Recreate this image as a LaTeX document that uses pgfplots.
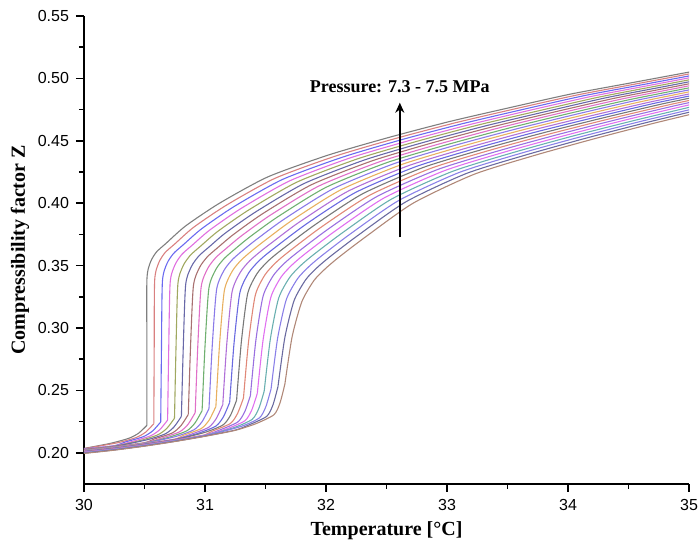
\documentclass[border=0pt]{standalone}
\usepackage{fontspec}
\setmainfont{Liberation Serif}
\newfontfamily\arialf{Liberation Sans}
\usepackage{pgfplots}
\pgfplotsset{compat=1.18}
\usetikzlibrary{arrows.meta}
\definecolor{c1}{HTML}{7F7F7F}
\definecolor{c2}{HTML}{D98080}
\definecolor{c3}{HTML}{6A6AF0}
\definecolor{c4}{HTML}{E070E0}
\definecolor{c5}{HTML}{A0A860}
\definecolor{c6}{HTML}{6868A8}
\definecolor{c7}{HTML}{A87070}
\definecolor{c8}{HTML}{E070C8}
\definecolor{c9}{HTML}{70B070}
\definecolor{c10}{HTML}{8A7AE8}
\definecolor{c11}{HTML}{E8B060}
\definecolor{c12}{HTML}{B070D8}
\definecolor{c13}{HTML}{6A6AE0}
\definecolor{c14}{HTML}{787878}
\definecolor{c15}{HTML}{E08878}
\definecolor{c16}{HTML}{9A70E0}
\definecolor{c17}{HTML}{E070F0}
\definecolor{c18}{HTML}{6AB0B0}
\definecolor{c19}{HTML}{8A80E8}
\definecolor{c20}{HTML}{6A6AA0}
\definecolor{c21}{HTML}{B08878}
\begin{document}
\begin{tikzpicture}
\begin{axis}[
  scale only axis,
  width=302.5pt, height=234pt,
  xmin=30, xmax=35, ymin=0.175, ymax=0.55,
  axis x line*=bottom, axis y line*=left,
  x axis line style={-, line width=0.8pt},
  y axis line style={-, line width=0.8pt},
  xtick={30,31,32,33,34,35},
  ytick={0.20,0.25,0.30,0.35,0.40,0.45,0.50,0.55},
  minor tick num=1,
  tick align=outside,
  major tick length=4pt, minor tick length=2.5pt,
  every tick/.style={black, line width=0.8pt},
  /pgf/number format/assume math mode=true,
  tick label style={font=\arialf\fontsize{8}{9}\selectfont},
  yticklabel style={/pgf/number format/.cd, fixed, fixed zerofill, precision=2},
  xticklabel style={/pgf/number format/.cd, fixed, precision=0},
  xlabel={\textbf{Temperature [°C]}},
  ylabel={\textbf{Compressibility factor Z}},
  every axis x label/.style={at={(axis description cs:0.5,0)}, yshift=-23.5pt, anchor=center, font=\fontsize{10}{12}\selectfont},
  every axis y label/.style={at={(axis description cs:0,0.5)}, xshift=-32pt, rotate=90, anchor=center, font=\fontsize{10}{12}\selectfont},
  every axis plot/.append style={line width=0.55pt, smooth, tension=0.4},
  clip=true,
]
% lower branches
\addplot[c1] coordinates {(30,0.2035) (30.22,0.2076) (30.37,0.2116) (30.45,0.2156) (30.52,0.2220)};
\addplot[c2] coordinates {(30,0.2033) (30.28,0.2081) (30.43,0.2122) (30.509,0.2165) (30.577,0.2233)};
\addplot[c3] coordinates {(30,0.2031) (30.25,0.2057) (30.34,0.2086) (30.49,0.2129) (30.567,0.2175) (30.634,0.2247)};
\addplot[c4] coordinates {(30,0.2029) (30.25,0.2055) (30.40,0.2091) (30.55,0.2136) (30.626,0.2185) (30.691,0.2262)};
\addplot[c5] coordinates {(30,0.2027) (30.25,0.2053) (30.46,0.2097) (30.61,0.2144) (30.684,0.2195) (30.748,0.2277)};
\addplot[c6] coordinates {(30,0.2025) (30.25,0.2051) (30.52,0.2104) (30.67,0.2151) (30.743,0.2206) (30.805,0.2292)};
\addplot[c7] coordinates {(30,0.2023) (30.25,0.2049) (30.5,0.2081) (30.58,0.2110) (30.73,0.2159) (30.801,0.2217) (30.862,0.2307)};
\addplot[c8] coordinates {(30,0.2021) (30.25,0.2047) (30.5,0.2079) (30.64,0.2117) (30.79,0.2168) (30.86,0.2228) (30.919,0.2322)};
\addplot[c9] coordinates {(30,0.2019) (30.25,0.2045) (30.5,0.2077) (30.70,0.2124) (30.85,0.2176) (30.918,0.2240) (30.976,0.2338)};
\addplot[c10] coordinates {(30,0.2017) (30.25,0.2043) (30.5,0.2075) (30.76,0.2131) (30.91,0.2185) (30.977,0.2251) (31.033,0.2354)};
\addplot[c11] coordinates {(30,0.2015) (30.25,0.2041) (30.5,0.2073) (30.75,0.2110) (30.82,0.2139) (30.97,0.2195) (31.035,0.2263) (31.09,0.2371)};
\addplot[c12] coordinates {(30,0.2013) (30.25,0.2039) (30.5,0.2071) (30.75,0.2108) (30.88,0.2147) (31.03,0.2204) (31.094,0.2276) (31.147,0.2387)};
\addplot[c13] coordinates {(30,0.2011) (30.25,0.2037) (30.5,0.2069) (30.75,0.2106) (30.94,0.2155) (31.09,0.2214) (31.152,0.2288) (31.204,0.2404)};
\addplot[c14] coordinates {(30,0.2009) (30.25,0.2035) (30.5,0.2067) (30.75,0.2104) (31.00,0.2164) (31.15,0.2224) (31.211,0.2301) (31.261,0.2421)};
\addplot[c15] coordinates {(30,0.2007) (30.25,0.2033) (30.5,0.2065) (30.75,0.2102) (31.0,0.2144) (31.06,0.2173) (31.21,0.2235) (31.269,0.2315) (31.318,0.2439)};
\addplot[c16] coordinates {(30,0.2005) (30.25,0.2031) (30.5,0.2063) (30.75,0.2100) (31.0,0.2142) (31.12,0.2182) (31.27,0.2246) (31.328,0.2328) (31.375,0.2457)};
\addplot[c17] coordinates {(30,0.2003) (30.25,0.2029) (30.5,0.2061) (30.75,0.2098) (31.0,0.2140) (31.18,0.2192) (31.33,0.2257) (31.386,0.2342) (31.432,0.2475)};
\addplot[c18] coordinates {(30,0.2001) (30.25,0.2027) (30.5,0.2059) (30.75,0.2096) (31.0,0.2138) (31.24,0.2202) (31.39,0.2268) (31.445,0.2356) (31.489,0.2493)};
\addplot[c19] coordinates {(30,0.1999) (30.25,0.2025) (30.5,0.2057) (30.75,0.2094) (31.0,0.2136) (31.30,0.2212) (31.45,0.2280) (31.503,0.2370) (31.546,0.2512)};
\addplot[c20] coordinates {(30,0.1997) (30.25,0.2023) (30.5,0.2055) (30.75,0.2092) (31.0,0.2134) (31.25,0.2182) (31.36,0.2222) (31.51,0.2292) (31.562,0.2385) (31.603,0.2530)};
\addplot[c21] coordinates {(30,0.1995) (30.25,0.2021) (30.5,0.2053) (30.75,0.2090) (31.0,0.2132) (31.25,0.2180) (31.42,0.2233) (31.57,0.2305) (31.62,0.2400) (31.66,0.2550)};
% jumps and upper branches
\addplot[c1] coordinates {(30.52,0.2220) (30.52,0.2800) (30.52,0.3390) (30.55,0.3530) (30.60,0.3610) (30.68,0.3680) (30.84,0.3818) (31.12,0.4000) (31.52,0.4211) (32.02,0.4386) (32.52,0.4527) (33.02,0.4654) (33.52,0.4766) (34.02,0.4874) (34.52,0.4964) (35.02,0.5054)};
\addplot[c2] coordinates {(30.577,0.2233) (30.58,0.2807) (30.584,0.3381) (30.618,0.3523) (30.67,0.3604) (30.752,0.3675) (30.906,0.3807) (31.18,0.3986) (31.58,0.4200) (32.08,0.4378) (32.58,0.4520) (33.08,0.4647) (33.58,0.4760) (34.08,0.4868) (34.58,0.4959) (35.08,0.5050)};
\addplot[c3] coordinates {(30.634,0.2247) (30.64,0.2813) (30.648,0.3372) (30.685,0.3515) (30.74,0.3597) (30.823,0.3669) (30.972,0.3795) (31.24,0.3973) (31.64,0.4190) (32.14,0.4370) (32.64,0.4513) (33.14,0.4640) (33.64,0.4754) (34.14,0.4863) (34.64,0.4954) (35.14,0.5045)};
\addplot[c4] coordinates {(30.691,0.2262) (30.70,0.2820) (30.712,0.3363) (30.753,0.3508) (30.81,0.3591) (30.895,0.3664) (31.038,0.3784) (31.30,0.3959) (31.70,0.4179) (32.20,0.4363) (32.70,0.4505) (33.20,0.4633) (33.70,0.4748) (34.20,0.4857) (34.70,0.4949) (35.20,0.5041)};
\addplot[c5] coordinates {(30.748,0.2277) (30.76,0.2826) (30.776,0.3354) (30.82,0.3500) (30.88,0.3584) (30.966,0.3658) (31.104,0.3773) (31.36,0.3945) (31.76,0.4169) (32.26,0.4355) (32.76,0.4498) (33.26,0.4627) (33.76,0.4741) (34.26,0.4851) (34.76,0.4944) (35.26,0.5036)};
\addplot[c6] coordinates {(30.805,0.2292) (30.82,0.2833) (30.84,0.3345) (30.888,0.3493) (30.95,0.3578) (31.038,0.3653) (31.17,0.3762) (31.42,0.3931) (31.82,0.4158) (32.32,0.4347) (32.82,0.4491) (33.32,0.4620) (33.82,0.4735) (34.32,0.4846) (34.82,0.4939) (35.32,0.5032)};
\addplot[c7] coordinates {(30.862,0.2307) (30.88,0.2839) (30.904,0.3336) (30.955,0.3485) (31.02,0.3571) (31.109,0.3647) (31.236,0.3750) (31.48,0.3918) (31.88,0.4148) (32.38,0.4339) (32.88,0.4484) (33.38,0.4613) (33.88,0.4729) (34.38,0.4840) (34.88,0.4934) (35.38,0.5027)};
\addplot[c8] coordinates {(30.919,0.2322) (30.94,0.2846) (30.968,0.3327) (31.023,0.3478) (31.09,0.3565) (31.181,0.3642) (31.302,0.3739) (31.54,0.3904) (31.94,0.4137) (32.44,0.4331) (32.94,0.4476) (33.44,0.4606) (33.94,0.4723) (34.44,0.4834) (34.94,0.4929) (35.44,0.5023)};
\addplot[c9] coordinates {(30.976,0.2338) (31.00,0.2852) (31.032,0.3318) (31.09,0.3470) (31.16,0.3558) (31.252,0.3636) (31.368,0.3728) (31.60,0.3890) (32.00,0.4127) (32.50,0.4324) (33.00,0.4469) (33.50,0.4599) (34.00,0.4717) (34.50,0.4828) (35.00,0.4924)};
\addplot[c10] coordinates {(31.033,0.2354) (31.06,0.2859) (31.096,0.3309) (31.158,0.3463) (31.23,0.3552) (31.324,0.3631) (31.434,0.3716) (31.66,0.3876) (32.06,0.4116) (32.56,0.4316) (33.06,0.4462) (33.56,0.4592) (34.06,0.4711) (34.56,0.4823) (35.06,0.4919)};
\addplot[c11] coordinates {(31.09,0.2371) (31.12,0.2865) (31.16,0.3300) (31.225,0.3455) (31.30,0.3545) (31.395,0.3625) (31.50,0.3705) (31.72,0.3863) (32.12,0.4106) (32.62,0.4308) (33.12,0.4455) (33.62,0.4586) (34.12,0.4705) (34.62,0.4817) (35.12,0.4915)};
\addplot[c12] coordinates {(31.147,0.2387) (31.18,0.2872) (31.224,0.3291) (31.293,0.3448) (31.37,0.3539) (31.467,0.3620) (31.566,0.3694) (31.78,0.3849) (32.18,0.4095) (32.68,0.4300) (33.18,0.4447) (33.68,0.4579) (34.18,0.4698) (34.68,0.4811) (35.18,0.4910)};
\addplot[c13] coordinates {(31.204,0.2404) (31.24,0.2878) (31.288,0.3282) (31.36,0.3440) (31.44,0.3532) (31.538,0.3614) (31.84,0.3835) (32.24,0.4084) (32.74,0.4292) (33.24,0.4440) (33.74,0.4572) (34.24,0.4692) (34.74,0.4806) (35.24,0.4905)};
\addplot[c14] coordinates {(31.261,0.2421) (31.30,0.2885) (31.352,0.3273) (31.428,0.3433) (31.51,0.3526) (31.61,0.3609) (31.90,0.3821) (32.30,0.4074) (32.80,0.4285) (33.30,0.4433) (33.80,0.4565) (34.30,0.4686) (34.80,0.4800) (35.30,0.4900)};
\addplot[c15] coordinates {(31.318,0.2439) (31.36,0.2891) (31.416,0.3264) (31.495,0.3425) (31.58,0.3519) (31.681,0.3603) (31.96,0.3808) (32.36,0.4063) (32.86,0.4277) (33.36,0.4426) (33.86,0.4558) (34.36,0.4680) (34.86,0.4794) (35.36,0.4895)};
\addplot[c16] coordinates {(31.375,0.2457) (31.42,0.2898) (31.48,0.3255) (31.563,0.3418) (31.65,0.3513) (31.753,0.3598) (32.02,0.3794) (32.42,0.4053) (32.92,0.4269) (33.42,0.4418) (33.92,0.4551) (34.42,0.4674) (34.92,0.4789) (35.42,0.4890)};
\addplot[c17] coordinates {(31.432,0.2475) (31.48,0.2904) (31.544,0.3246) (31.63,0.3410) (31.72,0.3506) (31.824,0.3592) (32.08,0.3780) (32.48,0.4042) (32.98,0.4261) (33.48,0.4411) (33.98,0.4544) (34.48,0.4668) (34.98,0.4783) (35.48,0.4885)};
\addplot[c18] coordinates {(31.489,0.2493) (31.54,0.2911) (31.608,0.3237) (31.698,0.3403) (31.79,0.3500) (31.896,0.3587) (32.14,0.3766) (32.54,0.4032) (33.04,0.4253) (33.54,0.4404) (34.04,0.4538) (34.54,0.4661) (35.04,0.4777)};
\addplot[c19] coordinates {(31.546,0.2512) (31.60,0.2917) (31.672,0.3228) (31.765,0.3395) (31.86,0.3493) (31.967,0.3581) (32.20,0.3753) (32.60,0.4021) (33.10,0.4246) (33.60,0.4397) (34.10,0.4531) (34.60,0.4655) (35.10,0.4771)};
\addplot[c20] coordinates {(31.603,0.2530) (31.66,0.2924) (31.736,0.3219) (31.833,0.3388) (31.93,0.3487) (32.039,0.3576) (32.26,0.3739) (32.66,0.4011) (33.16,0.4238) (33.66,0.4389) (34.16,0.4524) (34.66,0.4649) (35.16,0.4766)};
\addplot[c21] coordinates {(31.66,0.2550) (31.72,0.2930) (31.80,0.3210) (31.90,0.3380) (32.00,0.3480) (32.11,0.3570) (32.32,0.3725) (32.72,0.4000) (33.22,0.4230) (33.72,0.4382) (34.22,0.4517) (34.72,0.4643) (35.22,0.4760)};
\draw[-{Stealth[length=5pt,width=4.5pt]}, line width=0.9pt, black] (axis cs:32.61,0.3726) -- (axis cs:32.61,0.4805);
\node[font=\bfseries\fontsize{9}{10}\selectfont, anchor=center] at (axis cs:32.61,0.4935) {Pressure: 7.3 - 7.5 MPa};
\end{axis}
\pgfresetboundingbox
\path[use as bounding box] ([xshift=-42pt,yshift=-29.5pt]current axis.south west) rectangle ([xshift=4.5pt,yshift=8pt]current axis.north east);
\end{tikzpicture}
\end{document}
